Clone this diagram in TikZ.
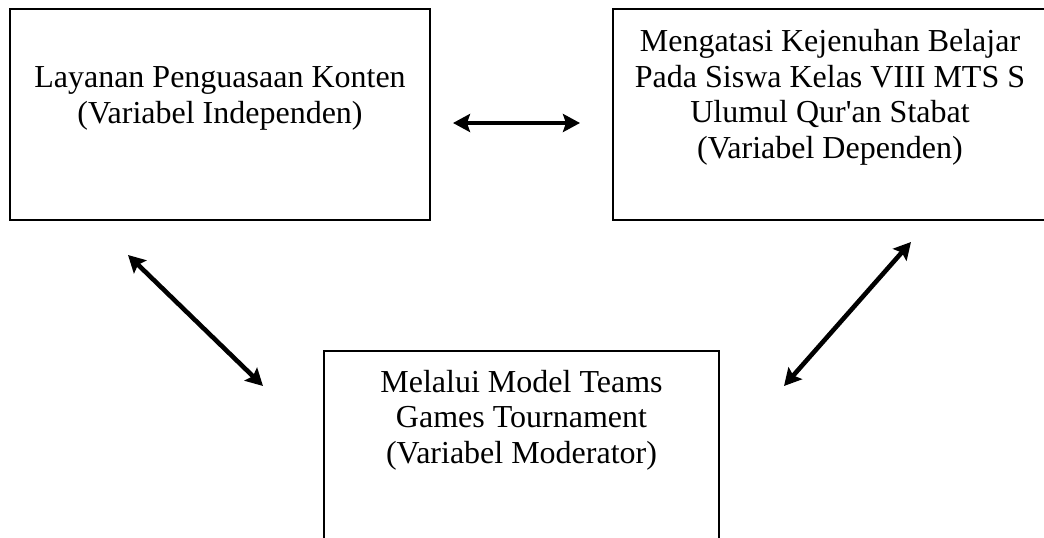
\documentclass[tikz,border=0pt]{standalone}
\usepackage{fontspec}
\setmainfont{Liberation Serif}
\usetikzlibrary{arrows.meta}
\begin{document}
\begin{tikzpicture}[x=1pt,y=1pt,
  box/.style={draw=black, line width=1.6pt, rectangle, inner sep=0pt},
  txt/.style={align=center, inner sep=0pt, anchor=base, font=\fontsize{32}{35.5}\selectfont},
  dbl/.style={line width=4.6pt, {Stealth[length=17pt,width=18pt,inset=3pt]}-{Stealth[length=17pt,width=18pt,inset=3pt]}}]
\useasboundingbox (0,0) rectangle (1044,-538);
\clip (0,0) rectangle (1044,-538);
\fill[white] (0,0) rectangle (1044,-538);
% boxes
\node[box, minimum width=420, minimum height=211] (L) at (220,-114.5) {};
\node[box, minimum width=440, minimum height=211] (R) at (833,-114.5) {};
\node[box, minimum width=395, minimum height=220] (B) at (521.5,-461) {};
% texts
\node[txt] (Lt) at (220,-123) {Layanan Penguasaan Konten\\(Variabel Independen)};
\node[txt] (Rt) at (830,-158) {Mengatasi Kejenuhan Belajar\\Pada Siswa Kelas VIII MTS S\\Ulumul Qur\textquotesingle an Stabat\\(Variabel Dependen)};
\node[txt] (Bt) at (521.5,-463) {Melalui Model Teams\\Games Tournament\\(Variabel Moderator)};
% connector ends
\coordinate (a1) at (453,-123);
\coordinate (a2) at (580,-123);
\coordinate (b1) at (128,-255);
\coordinate (b2) at (263,-386);
\coordinate (c1) at (911,-242);
\coordinate (c2) at (784,-386);
\draw[dbl] (a1) -- (a2);
\draw[dbl] (b1) -- (b2);
\draw[dbl] (c1) -- (c2);
\end{tikzpicture}
\end{document}
